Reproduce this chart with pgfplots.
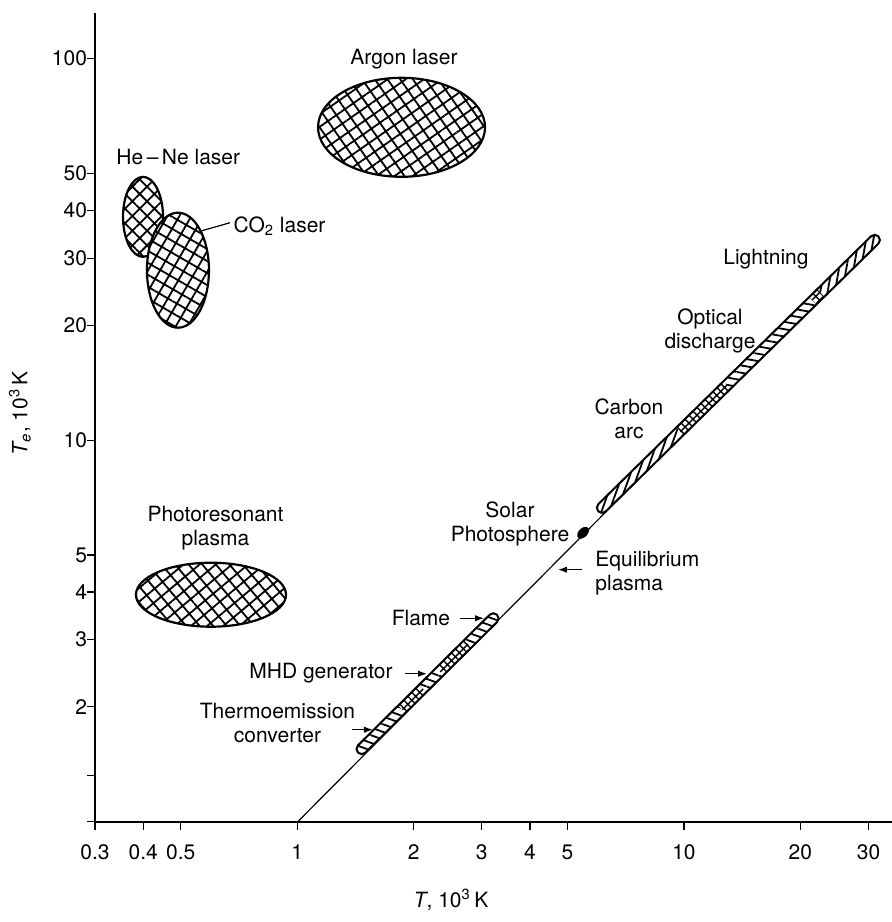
\documentclass[border=0pt]{standalone}
\usepackage{fontspec}
\setmainfont{TeX Gyre Heros}
\usepackage{pgfplots}
\pgfplotsset{compat=1.18}
\usetikzlibrary{patterns.meta,shapes.geometric,shapes.misc,arrows.meta}

\begin{document}
\begin{tikzpicture}[font=\fontsize{10.5}{12}\selectfont,
  sec/.style={inner sep=0pt, outer sep=0pt, minimum height=5.2pt, draw=none, preaction={fill=white}},
  lin/.style={pattern={Lines[angle=#1,distance=3.6pt,line width=0.9pt]}},
  hat/.style={pattern={Hatch[angle=45,distance=2.8pt,line width=0.7pt]}},
  outl/.style={inner sep=0pt, outer sep=0pt, minimum height=5.2pt, draw, line width=1pt, rounded rectangle},
  ell/.style={anchor=center, ellipse, draw, line width=1.1pt, inner sep=0pt, preaction={fill=white},
    pattern={Hatch[angle=#1,distance=5.2pt,line width=0.9pt]}},
  lbl/.style={inner sep=0pt, align=center},
  arr/.style={line width=0.6pt, -{Latex[length=4.5pt,width=3.2pt]}}
]
\useasboundingbox (-47.5pt,-50.15pt) rectangle (398.5pt,410.85pt);
\begin{axis}[
  at={(0pt,0pt)}, anchor=south west,
  scale only axis, width=398.5pt, height=404.5pt,
  xmode=log, ymode=log,
  xmin=0.3, xmax=34.5, ymin=1, ymax=132,
  axis x line*=bottom, axis y line*=left,
  axis line style={line width=0.9pt},
  tick align=outside, major tick length=4pt,
  tick style={line width=0.6pt, black},
  xminorticks=false, yminorticks=false,
  tick label style={font=\fontsize{10.5}{12}\selectfont},
  label style={font=\fontsize{10.5}{12}\selectfont},
  xticklabel style={yshift=-4pt},
  yticklabel style={xshift=3.5pt},
  xtick={0.3,0.4,0.5,1,2,3,4,5,10,20,30},
  xticklabels={0.3,0.4,0.5,1,2,3,4,5,10,20,30},
  ytick={1,1.32,2,3,4,5,10,20,30,40,50,100},
  yticklabels={,,2,3,4,5,10,20,30,40,50,100},
  clip=false,
  xlabel={{\itshape T}, 10\textsuperscript{3}\,K},
  ylabel={{\itshape T}\textsubscript{\itshape e}, 10\textsuperscript{3}\,K},
  every axis x label/.style={at={(axis description cs:0.4467,-0.0964)}, anchor=center},
  every axis y label/.style={at={(axis description cs:-0.0941,0.505)}, anchor=center, rotate=90},
]

% equilibrium line T_e = T
\addplot[line width=0.6pt] coordinates {(1.003,1) (31.0,33.0)};

% ellipses
\addplot[draw=none, mark=none, nodes near coords={},
  every node near coord/.style={ell=45, minimum width=20pt, minimum height=40pt}]
  coordinates {(0.3993,38.5)};
\addplot[draw=none, mark=none, nodes near coords={},
  every node near coord/.style={ell=60, minimum width=31pt, minimum height=57.5pt}]
  coordinates {(0.4916,27.9)};
\addplot[draw=none, mark=none, nodes near coords={},
  every node near coord/.style={ell=35, minimum width=83.5pt, minimum height=49.5pt}]
  coordinates {(1.861,66.1)};
\addplot[draw=none, mark=none, nodes near coords={},
  every node near coord/.style={ell=40, minimum width=75pt, minimum height=32pt}]
  coordinates {(0.5985,3.936)};
% solar photosphere
\addplot[draw=none, mark=none, nodes near coords={},
  every node near coord/.style={anchor=center, ellipse, fill=black, inner sep=0pt,
    minimum width=7pt, minimum height=4.5pt, rotate=45}]
  coordinates {(5.484,5.72)};

% strip A: thermoemission -> flame
\addplot[draw=none] coordinates {(1.436,1.517) (1.866,1.974)}
  node[midway, sloped, sec, rounded rectangle, rounded rectangle east arc=none, minimum width=31.3pt, lin=-20] {};
\addplot[draw=none] coordinates {(1.866,1.974) (2.115,2.239)}
  node[midway, sloped, sec, rectangle, minimum width=15.1pt, hat] {};
\addplot[draw=none] coordinates {(2.115,2.239) (2.341,2.479)}
  node[midway, sloped, sec, rectangle, minimum width=12.3pt, lin=-20] {};
\addplot[draw=none] coordinates {(2.341,2.479) (2.765,2.932)}
  node[midway, sloped, sec, rectangle, minimum width=20pt, hat] {};
\addplot[draw=none] coordinates {(2.765,2.932) (3.287,3.488)}
  node[midway, sloped, sec, rounded rectangle, rounded rectangle west arc=none, minimum width=20.7pt, lin=-20] {};
\addplot[draw=none] coordinates {(1.436,1.517) (3.287,3.488)}
  node[midway, sloped, outl, minimum width=97.9pt] {};

% strip B: carbon arc -> lightning
\addplot[draw=none] coordinates {(6.006,6.508) (9.770,10.559)}
  node[midway, sloped, sec, rounded rectangle, rounded rectangle east arc=none, minimum width=57.6pt, lin=70] {};
\addplot[draw=none] coordinates {(9.770,10.559) (12.925,13.955)}
  node[midway, sloped, sec, rectangle, minimum width=33.2pt, hat] {};
\addplot[draw=none] coordinates {(12.925,13.955) (21.57,23.22)}
  node[midway, sloped, sec, rectangle, minimum width=60.6pt, lin=-10] {};
\addplot[draw=none] coordinates {(21.57,23.22) (22.62,24.36)}
  node[midway, sloped, sec, rectangle, minimum width=5.9pt, hat] {};
\addplot[draw=none] coordinates {(22.62,24.36) (31.82,34.22)}
  node[midway, sloped, sec, rounded rectangle, rounded rectangle west arc=none, minimum width=40.5pt, lin=80] {};
\addplot[draw=none] coordinates {(6.006,6.508) (31.82,34.22)}
  node[midway, sloped, outl, minimum width=196.3pt] {};

% labels
\node[lbl] at (rel axis cs:0.3877,0.9431) {Argon laser};
\node[lbl] at (rel axis cs:0.1045,0.8214) {He\,--\,Ne laser};
\node[lbl, anchor=west] at (rel axis cs:0.1735,0.7358) {CO\textsubscript{2} laser};
\draw[line width=0.6pt] (rel axis cs:0.1343,0.7305) -- (rel axis cs:0.1694,0.7404);
\node[lbl] at (rel axis cs:0.1512,0.3630) {Photoresonant\\plasma};
\node[lbl] at (rel axis cs:0.8419,0.6959) {Lightning};
\node[lbl] at (rel axis cs:0.7716,0.6063) {Optical\\discharge};
\node[lbl] at (rel axis cs:0.6700,0.4979) {Carbon\\arc};
\node[lbl] at (rel axis cs:0.5207,0.3684) {Solar\\Photosphere};
\node[lbl, anchor=west, align=left] at (rel axis cs:0.6274,0.3074) {Equilibrium\\plasma};
\draw[arr] (rel axis cs:0.6107,0.3115) -- (rel axis cs:0.5809,0.3115);
\node[lbl] at (rel axis cs:0.4090,0.2518) {Flame};
\draw[arr] (rel axis cs:0.4580,0.2515) -- (rel axis cs:0.4881,0.2515);
\node[lbl] at (rel axis cs:0.2836,0.1838) {MHD generator};
\draw[arr] (rel axis cs:0.3890,0.1829) -- (rel axis cs:0.4166,0.1829);
\node[lbl] at (rel axis cs:0.2290,0.1220) {Thermoemission\\converter};
\draw[arr] (rel axis cs:0.3225,0.1137) -- (rel axis cs:0.3488,0.1137);
\end{axis}
\end{tikzpicture}
\end{document}
